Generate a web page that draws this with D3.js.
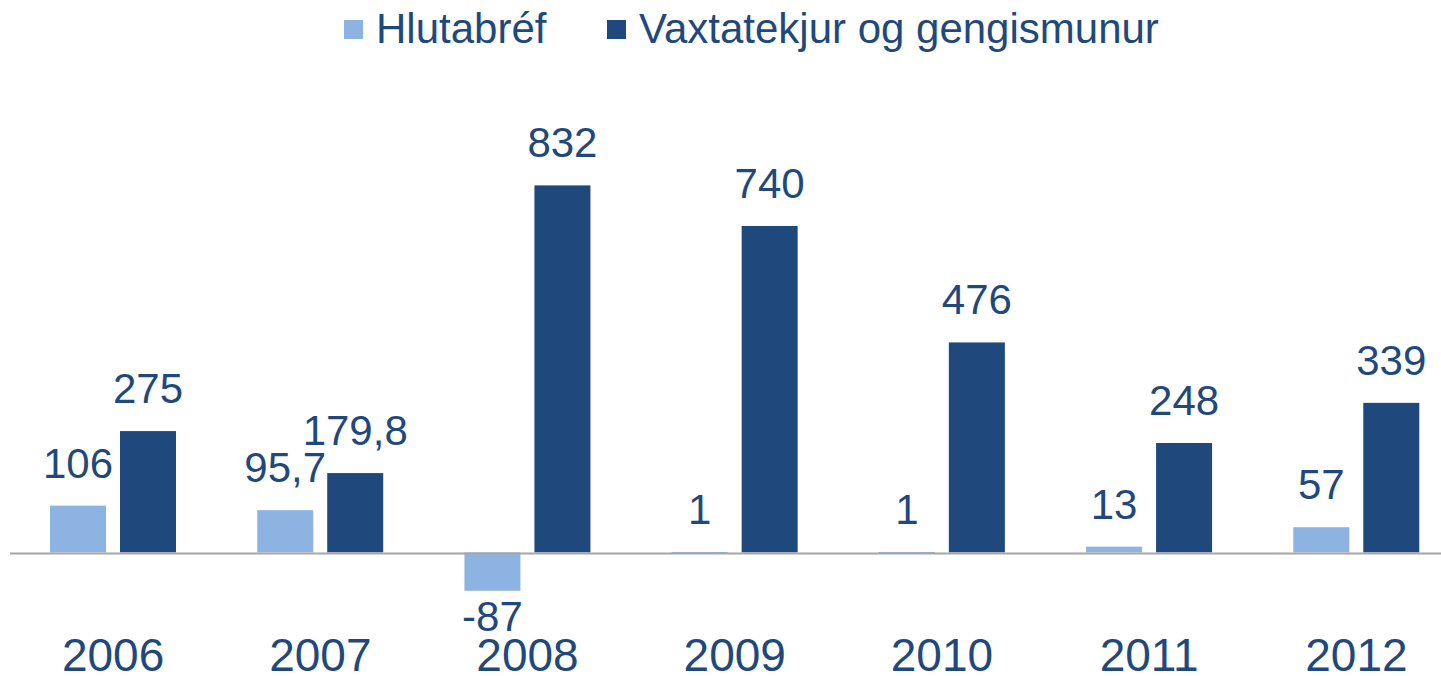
<!DOCTYPE html>
<html>
<head>
<meta charset="utf-8">
<script src="https://cdn.jsdelivr.net/npm/d3@7"></script>
<style>
  body { margin: 0; background: #fff; }
  svg { display: block; }
  text { font-family: "Liberation Sans", Arial, sans-serif; fill: #1F497D; }
</style>
</head>
<body>
<svg id="chart"></svg>
<script>
// data
const years = ['2006', '2007', '2008', '2009', '2010', '2011', '2012']
const seriesNames = ['Hlutabréf', 'Vaxtatekjur og gengismunur']
const hlutabref = [106, 95.7, -87, 1, 1, 13, 57]
const vaxtatekjur = [275, 179.8, 832, 740, 476, 248, 339]
const colors = ['#8DB3E2', '#1F497D']

const width = 1441
const height = 676

const svg = d3.select('#chart').attr('width', width).attr('height', height)

// icelandic number format uses a decimal comma
const fmt = v => String(v).replace('.', ',')

const rows = years.map((yr, i) => ({
  year: yr,
  values: [
    { key: 0, v: hlutabref[i] },
    { key: 1, v: vaxtatekjur[i] }
  ]
}))

let x0 = d3.scaleBand().domain(years).range([9.5, 1460]).padding(0)
let x1 = d3.scaleBand().domain([0, 1]).range([40.5, 166.5]).paddingInner(0.2)
let y = d3.scaleLinear().domain([-100, 900]).range([596.5, 155.4])

// bars
let groups = svg.append('g').attr('class', 'bars')
  .selectAll('g').data(rows).join('g')
  .attr('transform', d => `translate(${x0(d.year)},0)`)

groups.selectAll('rect').data(d => d.values).join('rect')
  .attr('x', d => x1(d.key))
  .attr('width', x1.bandwidth())
  .attr('y', d => Math.min(y(d.v), y(0)))
  .attr('height', d => Math.max(1.5, Math.abs(y(d.v) - y(0))))
  .attr('fill', d => colors[d.key])

// value labels
groups.selectAll('text.val').data(d => d.values).join('text')
  .attr('class', 'val')
  .attr('x', d => x1(d.key) + x1.bandwidth() / 2)
  .attr('y', d => d.v >= 0 ? y(d.v) - 28 : y(d.v) + 40)
  .attr('text-anchor', 'middle')
  .attr('font-size', 42)
  .text(d => fmt(d.v))

// zero line
svg.append('line')
  .attr('x1', 10).attr('x2', width)
  .attr('y1', y(0) + 1).attr('y2', y(0) + 1)
  .attr('stroke', '#A6A6A6').attr('stroke-width', 2)

// year labels
svg.append('g').selectAll('text').data(years).join('text')
  .attr('x', d => x0(d) + x0.bandwidth() / 2)
  .attr('y', 671)
  .attr('text-anchor', 'middle')
  .attr('font-size', 46)
  .text(d => d)

// legend
const legendX = [344, 607]
let legend = svg.append('g').selectAll('g').data(seriesNames).join('g')
  .attr('transform', (d, i) => `translate(${legendX[i]},0)`)

legend.append('rect')
  .attr('x', 0).attr('y', 20)
  .attr('width', 19).attr('height', 19)
  .attr('fill', (d, i) => colors[i])

legend.append('text')
  .attr('x', 32).attr('y', 43)
  .attr('font-size', 42)
  .text(d => d)
</script>
</body>
</html>
